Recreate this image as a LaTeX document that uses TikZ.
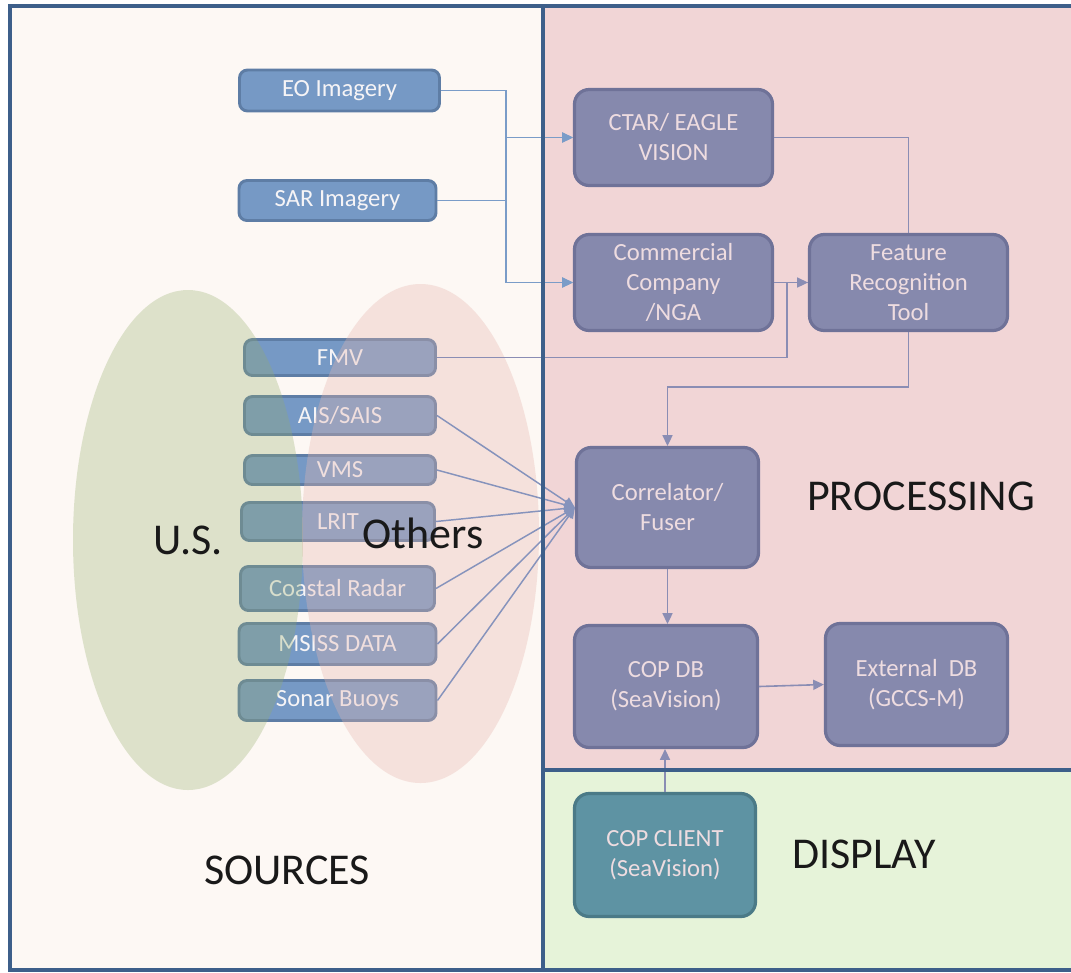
\documentclass[tikz,border=0pt]{standalone}
\usepackage{fontspec}
\setmainfont{Carlito}
\usetikzlibrary{arrows.meta}

\definecolor{framecol}{HTML}{3D5F8A}
\definecolor{srcbg}{HTML}{FDF8F4}
\definecolor{procbg}{HTML}{F1D5D6}
\definecolor{dispbg}{HTML}{E6F3D9}
\definecolor{srcfill}{HTML}{7699C5}
\definecolor{srcborder}{HTML}{5E7DA5}
\definecolor{procfill}{HTML}{8689AD}
\definecolor{procborder}{HTML}{6F7298}
\definecolor{clientfill}{HTML}{5E93A3}
\definecolor{clientborder}{HTML}{4B7A87}
\definecolor{proctext}{HTML}{EEDCE0}
\definecolor{srctext}{HTML}{F6F4F6}
\definecolor{usgreen}{RGB}{148,172,107}
\definecolor{othpink}{RGB}{229,181,174}
\definecolor{srcline}{HTML}{7A9CC8}
\definecolor{fanline}{HTML}{8693BC}
\definecolor{procline}{HTML}{8A8DB4}

\tikzset{
  sz/.style 2 args={minimum width={(#1-3)*0.75pt}, minimum height={(#2-3)*0.75pt}},
  boxtext/.style={font=\fontsize{18.5}{22.5}\selectfont, inner sep=0pt, align=center},
  srcbox/.style={boxtext, rounded corners=6pt, draw=srcborder, line width=2.2pt,
    fill=srcfill, text=srctext},
  procbox/.style={boxtext, rounded corners=11pt, draw=procborder, line width=2.4pt,
    fill=procfill, text=proctext},
  clientbox/.style={procbox, draw=clientborder, fill=clientfill},
  biglabel/.style={font=\fontsize{33}{38}\selectfont, text=black!90, inner sep=0pt},
  tip/.style={-{Triangle[length=8pt,width=7.5pt]}},
  srcconn/.style={draw=srcline, line width=1.1pt},
  fanconn/.style={draw=fanline, line width=1.1pt, tip},
  procconn/.style={draw=procline, line width=1.2pt},
  frameline/.style={draw=framecol, line width=3pt},
}

\begin{document}
\begin{tikzpicture}[x=0.75pt, y=-0.75pt]
\useasboundingbox (0,0) rectangle (1071,972);
\clip (0,0) rectangle (1071,972);

% panel backgrounds
\fill[srcbg] (10,6) rectangle (543,970);
\fill[procbg] (543,6) rectangle (1080,770);
\fill[dispbg] (543,770) rectangle (1080,970);

% source boxes
\node[srcbox, sz={203}{44}] (eo)    at (339.5,90.5)  {EO Imagery};
\node[srcbox, sz={200}{43}] (sar)   at (337.5,200.5) {SAR Imagery};
\node[srcbox, sz={194}{39}] (fmv)   at (340,357.5)   {FMV};
\node[srcbox, sz={194}{41}] (ais)   at (340,415.5)   {AIS/SAIS};
\node[srcbox, sz={194}{32}] (vms)   at (340,470)     {VMS};
\node[srcbox, sz={196}{41}] (lrit)  at (338,521.5)   {LRIT};
\node[srcbox, sz={197}{47}] (coast) at (337.5,588.5) {Coastal Radar};
\node[srcbox, sz={200}{44}] (msiss) at (337.5,644)   {MSISS DATA};
\node[srcbox, sz={200}{43}] (sonar) at (337.5,700.5) {Sonar Buoys};

% translucent groupings laid over the sources
\fill[usgreen, opacity=0.3] (188,540) ellipse [x radius=115, y radius=250];
\fill[othpink, opacity=0.33] (420.5,533.5) ellipse [x radius=118.5, y radius=249.5];
\node[biglabel] (us)  at (188,540) {U.S.};
\node[biglabel] (oth) at (423,533) {Others};

% processing and display boxes
\node[procbox, sz={201}{99}]  (ctar)  at (673.5,137.5) {CTAR/ EAGLE\\VISION};
\node[procbox, sz={201}{99}]  (comm)  at (673.5,282.5) {Commercial\\Company\\/NGA};
\node[procbox, sz={201}{99}]  (feat)  at (908.5,282.5) {Feature\\Recognition\\Tool};
\node[procbox, sz={185}{123}] (corr)  at (667.5,507.5) {Correlator/\\Fuser};
\node[procbox, sz={186}{125}] (copdb) at (666,686.5)   {COP DB\\(SeaVision)};
\node[procbox, sz={185}{125}] (ext)   at (916.5,684.5) {External\ \ DB\\(GCCS-M)};
\node[clientbox, sz={184}{126}] (client) at (665,855)  {COP CLIENT\\(SeaVision)};

% bend points
\coordinate (bus) at (506,0);
\coordinate (fmvbend) at (787,0);
\coordinate (featdrop) at (0,387);

% imagery feeds
\draw[srcconn, tip] (eo.east) -| (bus |- ctar.west) -- (ctar.west);
\draw[srcconn, tip] (eo.east) -| (bus |- comm.west) -- (comm.west);
\draw[srcconn, tip] (sar.east) -| (bus |- ctar.west) -- (ctar.west);
\draw[srcconn, tip] (sar.east) -| (bus |- comm.west) -- (comm.west);

% feature recognition inputs
\draw[procconn] (ctar.east) -| (feat.north);
\draw[procconn, tip] (comm.east) -- (feat.west);
\draw[srcconn, draw=procline] (fmv.east) -| (fmvbend |- feat.west) -- (feat.west);
\draw[procconn, tip] (feat.south) -- (feat.south |- featdrop) -| (corr.north);

% track feeds into the correlator
\draw[fanconn] (ais.east)   -- (corr.west);
\draw[fanconn] (vms.east)   -- (corr.west);
\draw[fanconn] (lrit.east)  -- (corr.west);
\draw[fanconn] (coast.east) -- (corr.west);
\draw[fanconn] (msiss.east) -- (corr.west);
\draw[fanconn] (sonar.east) -- (corr.west);

% database flow
\draw[procconn, tip] (corr.south) -- (corr.south |- copdb.north);
\draw[procconn, tip] (copdb.east) -- (ext.west);
\draw[procconn, tip] (client.north) -- (client.north |- copdb.south);

% panel frame
\draw[frameline] (1080,6) -- (10,6) -- (10,970) -- (1080,970);
\draw[frameline] (543,6) -- (543,970);
\draw[frameline] (543,770) -- (1080,770);

% panel titles
\node[biglabel] (proc) at (921,496) {PROCESSING};
\node[biglabel] (disp) at (864,854) {DISPLAY};
\node[biglabel] (src)  at (287,870) {SOURCES};
\end{tikzpicture}
\end{document}
